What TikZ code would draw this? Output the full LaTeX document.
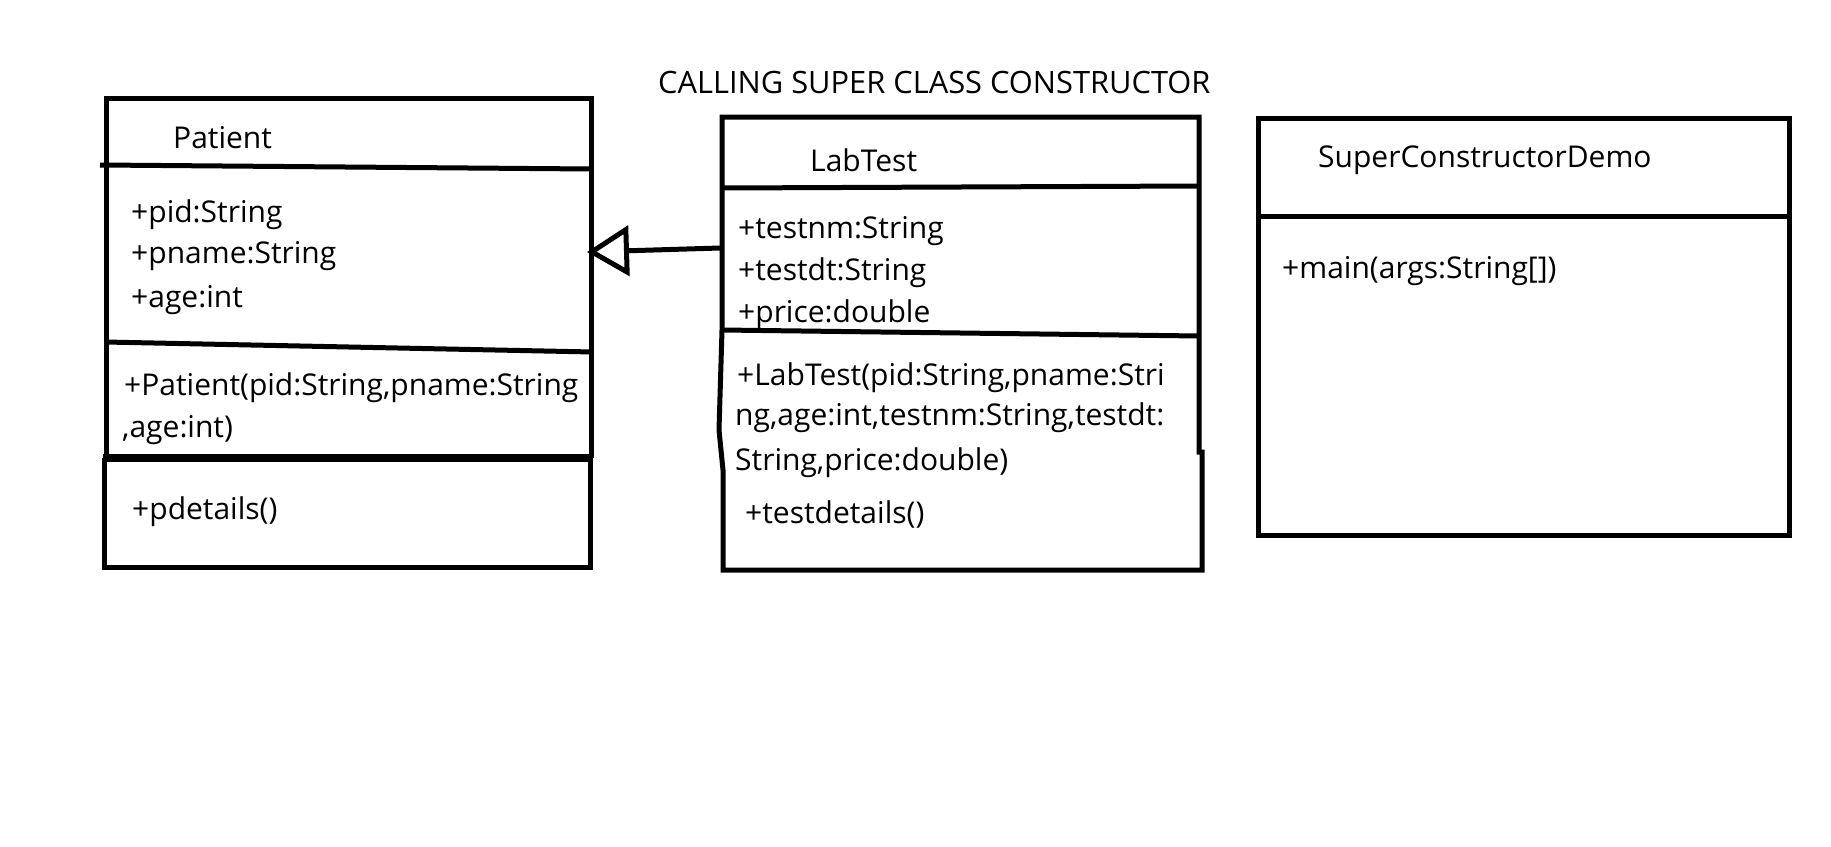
\documentclass[tikz,border=0pt]{standalone}
\usepackage{fontspec}
\setmainfont{Open Sans}
\usetikzlibrary{arrows.meta}

\begin{document}
\begin{tikzpicture}[x=1pt,y=-1pt,
        frame/.style={line width=5pt},
        txt/.style={anchor=base west, inner sep=0pt, font=\fontsize{30}{42}\selectfont}]
        \useasboundingbox (0,0) rectangle (1831,846);

        % Заголовок
        \node[txt, font=\fontsize{30.8}{42}\selectfont] (T) at (658,93) {CALLING SUPER CLASS CONSTRUCTOR};

        % Рамки классов
        \draw[frame] (106,458) -- (106,98) -- (591,98) -- (591,458);
        \draw[frame] (104,458) -- (104,567) -- (590,567) -- (590,458);
        \draw[frame] (100,165) -- (591,169);
        \draw[frame] (105,342) -- (593,352);
        \draw[line width=8pt] (103,458) -- (593,458);

        \draw[frame] (722,117) -- (1199,117) -- (1199,452) -- (1202,452) -- (1202,570)
                     -- (723,570) -- (723,470) -- (719,430) -- (722,330) -- cycle;
        \draw[frame] (722,188) -- (1199,186);
        \draw[frame] (722,330) -- (1199,336);

        \draw[frame] (1258,118) rectangle (1789,535);
        \draw[frame] (1258,216) -- (1789,216);

        % Patient
        \node[txt] (P)  at (173,148) {Patient};
        \node[txt] (P1) at (131,222) {+pid:String};
        \node[txt] (P2) at (131,263) {+pname:String};
        \node[txt] (P3) at (131,307) {+age:int};
        \node[txt] (P4) at (124,395) {+Patient(pid:String,pname:String};
        \node[txt] (P5) at (122,437) {,age:int)};
        \node[txt] (P6) at (132,519) {+pdetails()};

        % LabTest
        \node[txt] (L)  at (810,171) {LabTest};
        \node[txt] (L1) at (738,238) {+testnm:String};
        \node[txt] (L2) at (738,280) {+testdt:String};
        \node[txt] (L3) at (738,322) {+price:double};
        \node[txt] (L4) at (737,385) {+LabTest(pid:String,pname:Stri};
        \node[txt] (L5) at (735,425) {ng,age:int,testnm:String,testdt:};
        \node[txt] (L6) at (735,470) {String,price:double)};
        \node[txt] (L7) at (745,523) {+testdetails()};

        % SuperConstructorDemo
        \node[txt] (S)  at (1318,167) {SuperConstructorDemo};
        \node[txt] (S1) at (1282,278) {+main(args:String[])};

        % Наследование
        \coordinate (Lw) at (720,248);
        \coordinate (Pe) at (587,252);
        \draw[frame, -{Triangle[open, length=42pt, width=50pt]}] (Lw) -- (Pe);
    \end{tikzpicture}
\end{document}
